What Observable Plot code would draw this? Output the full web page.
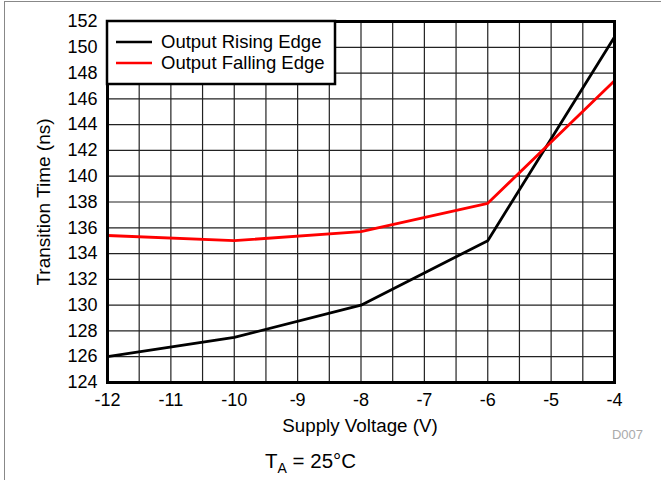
<!DOCTYPE html>
<html>
<head>
<meta charset="utf-8">
<script src="https://cdn.jsdelivr.net/npm/d3@7"></script>
<script src="https://cdn.jsdelivr.net/npm/@observablehq/plot@0.6"></script>
<style>
  html, body { margin: 0; padding: 0; background: #fff; }
  #wrap { position: relative; width: 661px; height: 480px; overflow: hidden; }
  #border { position: absolute; left: 4px; top: 1px; width: 700px; height: 600px; border-left: 1px solid #888; border-top: 1px solid #888; }
  #chart { position: absolute; left: 0; top: 0; }
  svg text { font-family: "Liberation Sans", Arial, sans-serif; }
</style>
</head>
<body>
<div id="wrap"><div id="border"></div><div id="chart"></div></div>
<script>
// ---- data ----
const voltages = [-12, -10, -8, -6, -4];
const risingEdge = [126.0, 127.5, 130.0, 135.0, 150.8];
const fallingEdge = [135.4, 135.0, 135.7, 137.9, 147.4];
const seriesNames = ["Output Rising Edge", "Output Falling Edge"];
const seriesColors = ["#000000", "#ff0000"];
const xTicks = [-12, -11, -10, -9, -8, -7, -6, -5, -4];
const xGrid = d3.range(-12, -3.99, 0.5);
const yTicks = d3.range(124, 152.01, 2);
const xTitle = "Supply Voltage (V)";
const yTitle = "Transition Time (ns)";
const figId = "D007";

const rows = [];
voltages.forEach((v, i) => {
  rows.push({series: seriesNames[0], v, t: risingEdge[i]});
  rows.push({series: seriesNames[1], v, t: fallingEdge[i]});
});

const plot = Plot.plot({
  width: 661,
  height: 480,
  marginLeft: 107,
  marginRight: 47,
  marginTop: 21,
  marginBottom: 98,
  style: {fontFamily: "Liberation Sans, Arial, sans-serif", background: "transparent", overflow: "visible"},
  x: {domain: [-12, -4]},
  y: {domain: [124, 152]},
  color: {domain: seriesNames, range: seriesColors},
  marks: [
    Plot.ruleX(xGrid, {stroke: "#222", strokeWidth: 1.2}),
    Plot.ruleY(yTicks, {stroke: "#222", strokeWidth: 1.2}),
    Plot.line(rows, {x: "v", y: "t", z: "series", stroke: "series", strokeWidth: 2.8}),
    Plot.frame({stroke: "#000", strokeWidth: 3}),
    Plot.axisX(xTicks, {tickSize: 0, tickPadding: 11, fontSize: 18, fill: "#000", tickFormat: d => String(d), label: null}),
    Plot.axisY(yTicks, {tickSize: 0, tickPadding: 10, fontSize: 18, fill: "#000", tickFormat: d => String(d), label: null})
  ]
});
document.getElementById("chart").appendChild(plot);

const svg = d3.select(plot);

// Axis titles
svg.append("text").attr("x", 360).attr("y", 432).attr("text-anchor", "middle")
  .attr("font-size", 18.8).attr("fill", "#000").text(xTitle);
svg.append("text").attr("transform", "translate(50,202) rotate(-90)").attr("text-anchor", "middle")
  .attr("font-size", 19).attr("fill", "#000").text(yTitle);

// figure id
svg.append("text").attr("x", 643).attr("y", 439).attr("text-anchor", "end")
  .attr("font-size", 13).attr("fill", "#aaa").text(figId);

// caption T_A = 25°C
const cap = svg.append("text").attr("x", 265).attr("y", 468).attr("text-anchor", "start")
  .attr("font-size", 20.5).attr("fill", "#000");
cap.append("tspan").text("T");
cap.append("tspan").attr("font-size", 14).attr("dy", 5).text("A");
cap.append("tspan").attr("dy", -5).text(" = 25°C");

// legend
const lg = svg.append("g");
lg.append("rect").attr("x", 107).attr("y", 21).attr("width", 228).attr("height", 63)
  .attr("fill", "#fff").attr("stroke", "#000").attr("stroke-width", 2.5);
seriesNames.forEach((name, i) => {
  const yy = 42 + i * 21;
  lg.append("line").attr("x1", 116).attr("x2", 152).attr("y1", yy).attr("y2", yy)
    .attr("stroke", seriesColors[i]).attr("stroke-width", 2.6);
  lg.append("text").attr("x", 161).attr("y", yy + 6).attr("text-anchor", "start")
    .attr("font-size", 18.5).attr("fill", "#000").text(name);
});
</script>
</body>
</html>
